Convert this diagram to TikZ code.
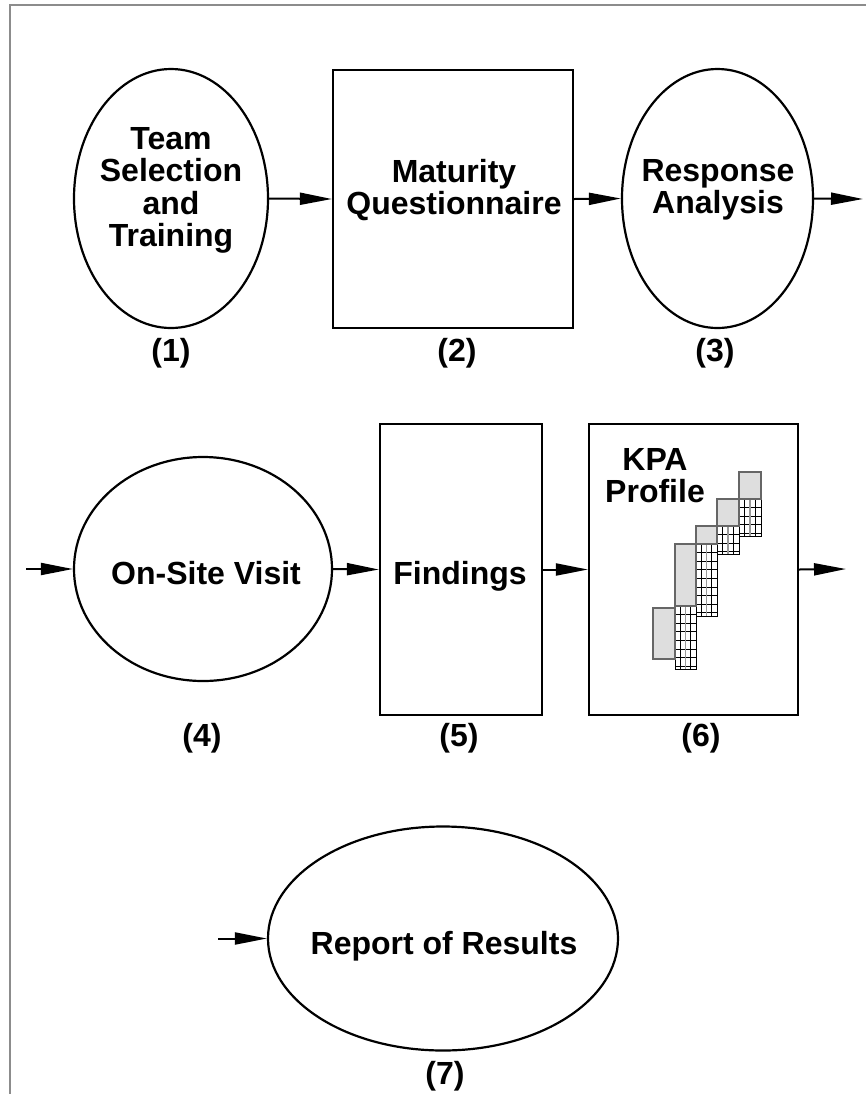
\documentclass[tikz,border=0pt]{standalone}
\usepackage{fontspec}
\setmainfont{Liberation Sans}
\usetikzlibrary{arrows.meta,shapes.geometric}
\tikzset{
  shapeline/.style={draw=black,line width=1.1pt},
  ell/.style={shapeline,ellipse,inner sep=0pt},
  box/.style={shapeline,rectangle,inner sep=0pt},
  txt/.style={font=\fontsize{16pt}{16.2pt}\selectfont\bfseries,inner sep=0pt,align=center},
  flow/.style={line width=1pt,-{Triangle[length=16pt,width=6pt]}},
  frame/.style={draw=black!45,line width=1.2pt},
  gridline/.style={draw=black,line width=0.4pt},
  gridgray/.style={draw=black!40,line width=0.9pt},
  barbox/.style={fill=black!13,draw=black!60,line width=0.8pt}
}
\newcommand\kpagrid[4]{%
  \pgfmathsetmacro\gdx{(#3-#1)/4}%
  \pgfmathtruncatemacro\gn{(#4-#2)/8.6}%
  \foreach \k in {1,...,\gn}{%
    \pgfmathsetmacro\gy{#2+\k*8.6}%
    \ifdim\gy pt<#4pt\relax \draw[gridline] (#1,\gy) -- (#3,\gy);\fi}%
  \draw[gridline] ({#1+\gdx},#2) -- ({#1+\gdx},#4);
  \draw[gridgray] ({#1+2*\gdx},#2) -- ({#1+2*\gdx},#4);
  \draw[gridline] ({#1+3*\gdx},#2) -- ({#1+3*\gdx},#4);
  \draw[gridline] (#1,#2) rectangle (#3,#4);
}
\begin{document}
\begin{tikzpicture}[x=0.5pt,y=-0.5pt]
\useasboundingbox (0,0) rectangle (866,1094);
% frame
\draw[frame] (866,5) -- (10,5) -- (10,1094);

% row 1
\node[ell,minimum width=97pt,minimum height=129.5pt] (e1) at (171,198.5) {};
\node[box,minimum width=120pt,minimum height=129pt] (r2) at (453,199) {};
\node[ell,minimum width=95.5pt,minimum height=129.5pt] (e3) at (717.5,198.5) {};
\node[txt,anchor=north] (t1) at (171,127) {Team\\Selection\\and\\Training};
\node[txt,anchor=north] (t2) at (454,159) {Maturity\\Questionnaire};
\node[txt,anchor=north] (t3) at (718,159) {Response\\Analysis};
\node[txt,anchor=base] (n1) at (171,361) {(1)};
\node[txt,anchor=base] (n2) at (457,361) {(2)};
\node[txt,anchor=base] (n3) at (715,361) {(3)};
\coordinate (out1) at (863,199);
\draw[flow] (e1.east) -- (r2.west);
\draw[flow] (r2.east) -- (e3.west);
\draw[flow] (e3.east) -- (out1);

% row 2
\coordinate (in2) at (26,569);
\node[ell,minimum width=129pt,minimum height=112pt] (e4) at (203,569) {};
\node[box,minimum width=81pt,minimum height=145.5pt] (r5) at (461,569.5) {};
\node[box,minimum width=104.5pt,minimum height=145.5pt] (r6) at (693.5,569.5) {};
\node[txt,anchor=base] (t4) at (206,584) {On-Site Visit};
\node[txt,anchor=base] (t5) at (460,584) {Findings};
\node[txt,anchor=north] (t6) at (655,448) {KPA\\Profile};
\node[txt,anchor=base] (n4) at (202,746) {(4)};
\node[txt,anchor=base] (n5) at (459,746) {(5)};
\node[txt,anchor=base] (n6) at (701,746) {(6)};
\coordinate (out2) at (846,569);
\draw[flow] (in2) -- (e4.west);
\draw[flow] (e4.east) -- (r5.west);
\draw[flow] (r5.east) -- (r6.west);
\draw[flow] (r6.east) -- (out2);

% KPA profile graphic
\kpagrid{675}{606}{696}{669}
\kpagrid{696}{544}{717}{616}
\kpagrid{717}{526}{739}{554}
\kpagrid{739}{499}{761}{536}
\draw[barbox] (653,608) rectangle (675,659);
\draw[barbox] (675,544) rectangle (696,606);
\draw[barbox] (696,526) rectangle (717,544);
\draw[barbox] (717,499) rectangle (739,526);
\draw[barbox] (739,472) rectangle (761,499);

% row 3
\coordinate (in3) at (218,938.5);
\node[ell,minimum width=175pt,minimum height=112pt] (e7) at (443,938.5) {};
\node[txt,anchor=base] (t7) at (444,954) {Report of Results};
\node[txt,anchor=base] (n7) at (445,1084) {(7)};
\draw[flow] (in3) -- (e7.west);
\end{tikzpicture}
\end{document}
